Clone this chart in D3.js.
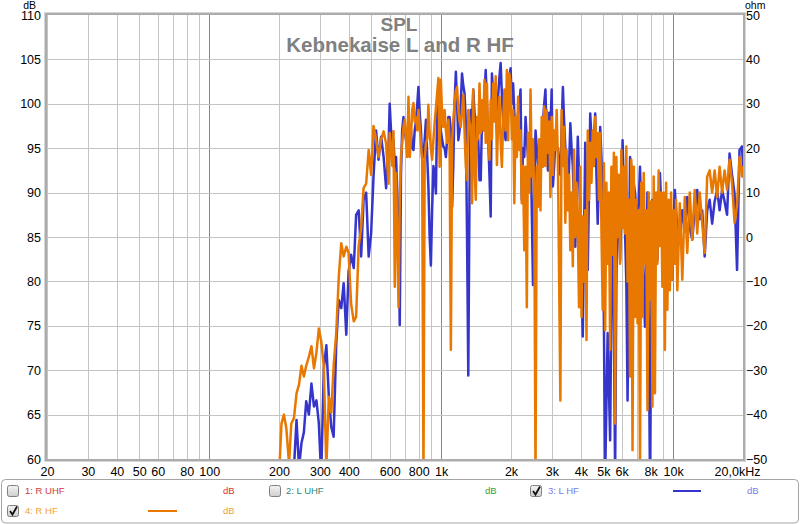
<!DOCTYPE html>
<html><head><meta charset="utf-8">
<script src="https://cdn.jsdelivr.net/npm/d3@7"></script>
<style>
html,body{margin:0;padding:0;background:#fff;}
svg{display:block;font-family:"Liberation Sans",Arial,sans-serif;}
</style>
</head><body>
<svg id="c" width="800" height="524"></svg>
<script>
// ---------- data ----------
const freqs = [
200,205,210,215,221,226,232,238,244,250,
256,262,269,276,283,290,297,304,312,320,
328,336,344,353,362,371,380,390,399,409,
420,430,441,452,463,475,487,499,511,524,
537,551,565,579,593,600,608,616,623,631,
639,647,655,663,671,679,688,697,705,714,
723,732,741,750,760,769,779,789,798,808,
818,828,839,849,860,871,881,892,903,914,
926,937,949,961,973,985,997,1009,1022,1035,
1048,1061,1074,1087,1101,1115,1128,1142,1157,1171,
1186,1201,1215,1230,1246,1261,1277,1293,1309,1325,
1342,1359,1375,1392,1410,1427,1445,1463,1481,1499,
1518,1537,1556,1575,1595,1615,1635,1655,1676,1697,
1718,1739,1761,1783,1805,1827,1850,1873,1896,1920,
1944,1968,1992,2017,2042,2067,2093,2119,2146,2173,
2199,2226,2254,2282,2311,2340,2368,2397,2428,2458,
2488,2519,2551,2583,2614,2646,2680,2713,2747,2781,
2815,2850,2886,2922,2958,2995,3032,3070,3108,3147,
3185,3224,3265,3305,3347,3388,3430,3473,3516,3560,
3604,3649,3694,3740,3786,3833,3881,3929,3978,4027,
4077,4128,4179,4231,4284,4337,4391,4445,4501,4557,
4613,4670,4729,4788,4847,4907,4968,5030,5092,5155,
5220,5285,5350,5416,5484,5552,5621,5691,5762,5833,
5906,5979,6053,6128,6205,6282,6360,6439,6519,6600,
6682,6765,6849,6934,7020,7107,7196,7285,7376,7467,
7560,7654,7749,7845,7943,8041,8141,8242,8345,8448,
8553,8659,8767,8876,8986,9097,9211,9325,9441,9558,
9677,9797,9919,10042,10167,10293,10421,10682,10949,11223,
11503,11791,12086,12388,12698,13015,13340,13674,14016,14366,
14725,15094,15471,15858,16254,16660,17077,17504,17941,18390,
18850,19321,19804,20000];

// 3: L HF (dB)
const lHF = [
50,50,50,50,50,55,59,64.4,59,61.8,
63,66.5,65,68.5,65.9,66.6,64,58,70.2,72.8,
67,63.6,62.5,73,77.9,77,79.8,74,81.1,83,
81.5,87.5,88,82.8,89.2,90,82.8,85.4,91.8,97,
93.7,96.3,94,90.5,95,100,97,95.6,96,93,
94,90,85,75.1,92,97,98.5,97,96,95,
95.6,96,97,95,94.8,97,98,100,101.9,99,
97,94,94,96,98.2,94,90.7,85,81.8,88,
93,92,89.9,99,100.4,98,97,96,95.2,95,
94,96,98.5,98.5,97,88.4,93,100,103.6,100,
95.9,97,100,103.4,102,101.2,98,85,69.4,90,
99.3,98,101.6,99,97,95,96,91.4,91.4,98,
97,101,103.8,100,96,92,87.3,103.4,101,99,
100,97,101,103,104.6,101,98,97,95.9,99,
101,103,104,100,102.3,99,96,97,99,100,
101.6,89.2,95,94,98.5,96,94,95,96,88,
79.6,90,97,95,93,92,91.8,95,98,100,
101.6,96,92.5,99,97,101.6,90.7,93,96,95,
95,93,92,97,101.9,98,95,92,88.8,93,
97.8,95,93,88,83.9,90,96.3,92,88,80,
73.8,85,95.6,88,81.3,90,98.9,96,94,96,
98.9,92,86.5,92,97.4,94,89.5,75,58,66,
74.2,68,62.1,78,92.2,75,58,80,91.4,86,
82.4,88,95.9,90,85.4,80,66.6,80,94,93,
92.2,91,90,88,86,89,92.9,88,84,80,
74.9,82,90,75,58,75,89.2,87,85,83,
82.4,88,92.2,89,86,84,80.9,85,88,87,
86,83,80.2,86,90.3,88,86,84.3,88,86,
89.5,86,84.7,88,90.3,87,88,82.8,88,89.2,
86.5,89,90.3,88,90.3,89,87.5,94.4,92,89.9,
81.3,94.8,95.2,93];

// 4: R HF (dB)
const rHF = [
58,64,65,63.5,59.5,64,64.6,67.4,68.4,70.5,
69.3,70.5,71.5,72.7,70.2,72,74.7,73.3,70.4,59,
67,65.2,70.5,74.2,80.5,84.3,82.8,83.9,83.2,77.5,
75.5,76,84,86,90.5,91,94.8,92,97.5,96,
94,96,96.9,95.5,91,96.7,95,93,96.9,79.4,
92.2,85,77.1,88.8,94,95.6,97.4,98.2,96,94,
100.8,94,96,99.3,100.1,98,98.5,97,99.3,97.4,
95.5,93.7,58,93.7,95.6,96,99.9,96.7,95,93.7,
95.9,97.8,99.5,101.2,102.9,92.9,102.7,99,97.4,99.3,
97,95.6,98.2,96,72.3,95.6,98.2,100,101.5,101.9,
99.3,98,97.4,99.3,101,97,93,91.4,99.3,98,
97,88.8,101.6,93,89.2,98.5,96,102.3,96.7,100.4,
97,102.7,95.6,102.3,96,93.7,100.4,96,102.3,98,
103.1,93.1,98,100.8,95.6,92.9,98,101.6,97,103.8,
95.9,103.4,102.3,96,99.3,88.8,98.5,94,100.8,94.8,
97,88.8,93,83.5,92.9,77.1,96.7,90,101.6,91.8,
96,89.2,58,92.9,88.4,96,88,98.5,92.9,99.7,
93,99.3,94.5,98,89.5,98.5,92,97,94.8,99.3,
93.7,80.5,66.6,99.3,93,97.4,86.6,94.8,88,92,
83.5,90,81.7,94.8,85,91.1,86,77.1,92.9,76,
87.3,80,88,73.4,97,89.2,95.6,91.1,97,93,
98.5,94,96.7,89.2,96.7,86,76.8,93.3,74.5,91.1,
82,90,72.3,92.9,83,94.5,64,94,85,92,
82,94.8,86,92.9,85.4,95.2,80,89.2,69.3,93.7,
61,92.9,76,89.2,75.3,88,58,91.1,76,92.2,
82,88,65.5,90,78,89,65.9,91.8,67.4,90,
82,92.5,84,90,79.4,90,72.3,91.1,76.8,89.2,
79,90,80.2,88,82,89.2,79,88.8,80.2,89.5,
83.2,90,84.7,90.3,85.4,90,86.6,83.2,91.8,92.5,
90,92.5,89.5,92.9,90,92.5,90.3,93.7,91,86.6,
88.5,94,91.8,93];

const dbTicks = [60,65,70,75,80,85,90,95,100,105,110];
const ohmTicks = [-50,-40,-30,-20,-10,0,10,20,30,40,50];
const gridFreqs = [20,30,40,50,60,70,80,90,100,200,300,400,500,600,700,800,900,
  1000,2000,3000,4000,5000,6000,7000,8000,9000,10000,20000];
const majorFreqs = [100,1000,10000];
const labelFreqs = [20,30,40,50,60,80,100,200,300,400,600,800,1000,2000,3000,4000,5000,6000,8000,10000,20000];
const labelTexts = ["20","30","40","50","60","80","100","200","300","400","600","800","1k","2k","3k","4k","5k","6k","8k","10k","20,0kHz"];
const titleLines = ["SPL","Kebnekaise L and R HF"];
const legendNames = ["1: R UHF","2: L UHF","3: L HF","4: R HF"];
const legendUnits = ["dB","dB","dB","dB"];
const legendChecked = [false,false,true,true];

// ---------- drawing ----------
const svg = d3.select("#c");
const X0 = 47, X1 = 743, Y0 = 15, Y1 = 459;
const x = d3.scaleLog().domain([20,20000]).range([X0,X1]);
const y = d3.scaleLinear().domain([60,110]).range([Y1,Y0]);
const y2 = d3.scaleLinear().domain([-50,50]).range([Y1,Y0]);

svg.append("rect").attr("width",800).attr("height",524).attr("fill","#fff");

// grid
const grid = svg.append("g");
grid.selectAll("line.v").data(gridFreqs).join("line")
  .attr("x1",d=>Math.round(x(d))+0.5).attr("x2",d=>Math.round(x(d))+0.5)
  .attr("y1",Y0).attr("y2",Y1)
  .attr("stroke",d=>majorFreqs.includes(d)?"#8a8a8a":"#c4c4c4").attr("stroke-width",1);
grid.selectAll("line.h").data(dbTicks.slice(1,-1)).join("line")
  .attr("x1",X0).attr("x2",X1)
  .attr("y1",d=>Math.round(y(d))+0.5).attr("y2",d=>Math.round(y(d))+0.5)
  .attr("stroke","#c4c4c4").attr("stroke-width",1);

// title
svg.append("text").attr("x",399).attr("y",31).attr("text-anchor","middle")
  .attr("font-weight","bold").attr("font-size",19).attr("fill","#808080").text(titleLines[0]);
svg.append("text").attr("x",400).attr("y",52).attr("text-anchor","middle")
  .attr("font-weight","bold").attr("font-size",20.5).attr("fill","#808080").text(titleLines[1]);

// data
svg.append("clipPath").attr("id","clip").append("rect")
  .attr("x",X0).attr("y",Y0).attr("width",X1-X0).attr("height",Y1-Y0);
const n = Math.min(freqs.length, lHF.length, rHF.length);
const line = d3.line().x((d,i)=>x(freqs[i])).y(d=>y(d));
const dataG = svg.append("g").attr("clip-path","url(#clip)");
dataG.append("path").attr("d",line(lHF.slice(0,n))).attr("fill","none")
  .attr("stroke","#3535cc").attr("stroke-width",2.5).attr("stroke-linejoin","round");
dataG.append("path").attr("d",line(rHF.slice(0,n))).attr("fill","none")
  .attr("stroke","#e87800").attr("stroke-width",2.5).attr("stroke-linejoin","round");

// frame
svg.append("rect").attr("x",X0-2.5).attr("y",Y0-2.5).attr("width",X1-X0+5).attr("height",Y1-Y0+5)
  .attr("fill","none").attr("stroke","#d6d6d6").attr("stroke-width",1);
svg.append("rect").attr("x",X0-1).attr("y",Y0-1).attr("width",X1-X0+2).attr("height",Y1-Y0+2)
  .attr("fill","none").attr("stroke","#acacac").attr("stroke-width",2);

// axes
function styleAxis(g){
  g.select(".domain").remove();
  g.selectAll("text").attr("font-family","'Liberation Sans',Arial,sans-serif")
    .attr("font-size",12.5).attr("fill","#000");
}
svg.append("g").attr("transform",`translate(${X0},0)`)
  .call(d3.axisLeft(y).tickValues(dbTicks).tickSize(0).tickPadding(6).tickFormat(d3.format("d")))
  .call(styleAxis);
svg.append("g").attr("transform",`translate(${X1},0)`)
  .call(d3.axisRight(y2).tickValues(ohmTicks).tickSize(0).tickPadding(3).tickFormat(d3.format("d")))
  .call(styleAxis);
const bx = svg.append("g").attr("transform",`translate(0,${Y1})`)
  .call(d3.axisBottom(x).tickValues(labelFreqs).tickSize(0).tickPadding(8)
    .tickFormat((d)=>labelTexts[labelFreqs.indexOf(d)]))
  .call(styleAxis);
bx.selectAll("text").filter(d=>d===20000).attr("dx",-6);

svg.append("text").attr("x",36).attr("y",8.5).attr("text-anchor","end")
  .attr("font-size",10.5).attr("fill","#000").text("dB");
svg.append("text").attr("x",745).attr("y",8.5).attr("text-anchor","start")
  .attr("font-size",10.5).attr("fill","#000").text("ohm");

// legend
const lg = svg.append("g");
lg.append("rect").attr("x",1.5).attr("y",479.5).attr("width",797).attr("height",43.5).attr("rx",4)
  .attr("fill","#fff").attr("stroke","#a4a4a4");
const defs = svg.append("defs");
const grad = defs.append("linearGradient").attr("id","cbg").attr("x1",0).attr("y1",0).attr("x2",0).attr("y2",1);
grad.append("stop").attr("offset","0%").attr("stop-color","#f4f4f4");
grad.append("stop").attr("offset","100%").attr("stop-color","#cfcfcf");

const layout = [
  {cb:7, lx:25, ux:223, row:0, textCol:"#d03838", unitCol:"#d83030", line:null},
  {cb:269, lx:286, ux:485, row:0, textCol:"#2a8a78", unitCol:"#30a040", line:null},
  {cb:530, lx:548, ux:747, row:0, textCol:"#7a7af0", unitCol:"#7a7af0", line:[673,701], lineCol:"#3535cc"},
  {cb:7, lx:25, ux:223, row:1, textCol:"#f0a040", unitCol:"#f0a040", line:[148,177], lineCol:"#e87800"}
];
layout.forEach((L,i)=>{
  const cy = 485 + L.row*20;
  lg.append("rect").attr("x",L.cb+0.5).attr("y",cy+0.5).attr("width",11).attr("height",11).attr("rx",2)
    .attr("fill","url(#cbg)").attr("stroke","#808080");
  if(legendChecked[i]){
    lg.append("path").attr("d",`M${L.cb+3},${cy+6} L${L.cb+5.5},${cy+9.5} L${L.cb+10},${cy+1.5}`)
      .attr("fill","none").attr("stroke","#111").attr("stroke-width",1.8);
  }
  lg.append("text").attr("x",L.lx).attr("y",cy+9).attr("font-size",9.5).attr("fill",L.textCol).text(legendNames[i]);
  lg.append("text").attr("x",L.ux).attr("y",cy+9).attr("font-size",9.5).attr("fill",L.unitCol).text(legendUnits[i]);
  if(L.line){
    lg.append("line").attr("x1",L.line[0]).attr("x2",L.line[1]).attr("y1",cy+6).attr("y2",cy+6)
      .attr("stroke",L.lineCol).attr("stroke-width",2);
  }
});
</script>
</body></html>
